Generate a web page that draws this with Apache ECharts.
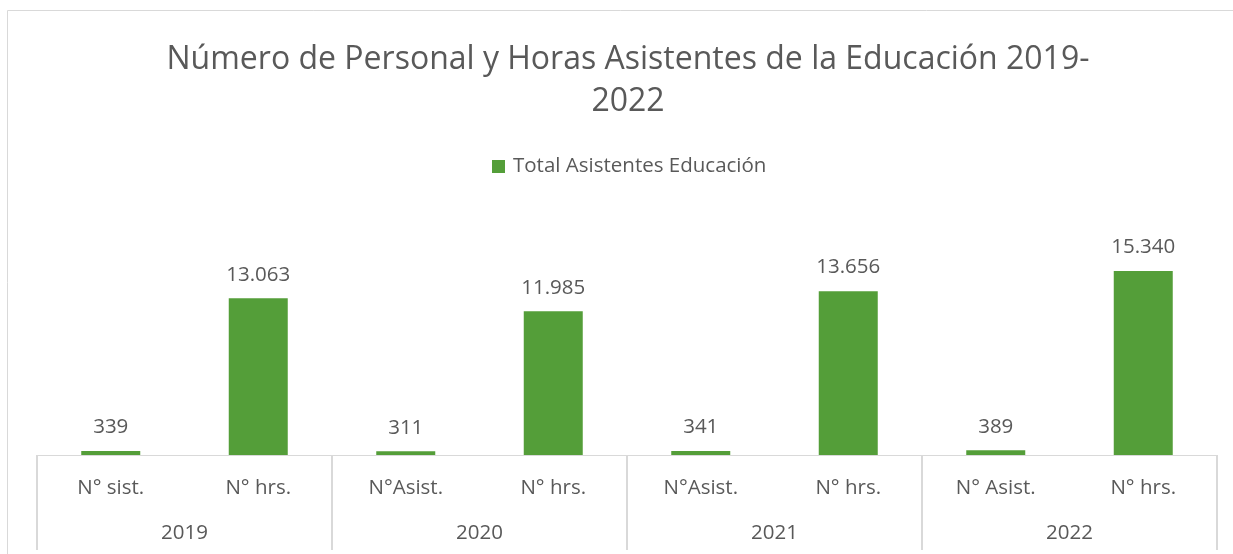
<!DOCTYPE html>
<html>
<head>
<meta charset="utf-8">
<script src="https://cdn.jsdelivr.net/npm/echarts@6/dist/echarts.min.js"></script>
<style>
  html, body { margin: 0; padding: 0; background: #fff; }
  #chart { width: 1233px; height: 554px; }
</style>
</head>
<body>
<div id="chart"></div>
<script>
// sub categories (level 1) and years (level 2)
const subCategories = ['N° sist.', 'N° hrs.', 'N°Asist.', 'N° hrs.', 'N°Asist.', 'N° hrs.', 'N° Asist.', 'N° hrs.'];
const years = ['2019', '2020', '2021', '2022'];
const totalAsistentes = [339, 13063, 311, 11985, 341, 13656, 389, 15340];

const textColor = '#595959';
const fontFamily = '"Open Sans", "Noto Sans", sans-serif';

// 13.063 style thousands separator
const fmt = (v) => String(v).replace(/\B(?=(\d{3})+(?!\d))/g, '.');

const myChart = echarts.init(document.getElementById('chart'));

const option = {
  animation: false,
  textStyle: { fontFamily: fontFamily, color: textColor },
  title: {
    text: 'Número de Personal y Horas Asistentes de la Educación 2019-\n2022',
    left: 623,
    textAlign: 'center',
    top: 34,
    textStyle: {
      fontFamily: fontFamily,
      fontSize: 32,
      fontWeight: 'normal',
      color: textColor,
      lineHeight: 42
    }
  },
  legend: {
    data: ['Total Asistentes Educación'],
    top: 151,
    left: 487,
    icon: 'rect',
    itemWidth: 13,
    itemHeight: 13,
    itemGap: 6,
    textStyle: { fontFamily: fontFamily, fontSize: 20.5, color: textColor, padding: [0, 0, 0, 3] }
  },
  grid: {
    left: 37,
    right: 16,
    top: 239,
    bottom: 99
  },
  xAxis: [
    {
      type: 'category',
      data: subCategories,
      axisLine: { show: true, lineStyle: { color: '#d9d9d9', width: 1 } },
      axisTick: { show: false },
      axisLabel: { margin: 23, fontSize: 20.5, color: textColor, fontFamily: fontFamily, interval: 0 }
    },
    {
      type: 'category',
      data: years,
      position: 'bottom',
      axisLine: { show: false },
      axisTick: { show: true, length: 95, lineStyle: { color: '#d9d9d9', width: 2 } },
      axisLabel: { margin: 68, fontSize: 20.5, color: textColor, fontFamily: fontFamily }
    }
  ],
  yAxis: {
    type: 'value',
    min: 0,
    max: 18000,
    show: false,
    splitLine: { show: false }
  },
  series: [
    {
      name: 'Total Asistentes Educación',
      type: 'bar',
      xAxisIndex: 0,
      data: totalAsistentes,
      barWidth: '40%',
      itemStyle: { color: '#549E39' },
      label: {
        show: true,
        position: 'top',
        distance: 13,
        fontSize: 20.5,
        color: textColor,
        fontFamily: fontFamily,
        formatter: (p) => fmt(p.value)
      }
    }
  ],
  graphic: [
    {
      type: 'polyline',
      shape: { points: [[7.5, 554], [7.5, 10.5], [1233, 10.5]] },
      style: { stroke: '#d9d9d9', lineWidth: 1, fill: null }
    }
  ]
};

myChart.setOption(option);
</script>
</body>
</html>
